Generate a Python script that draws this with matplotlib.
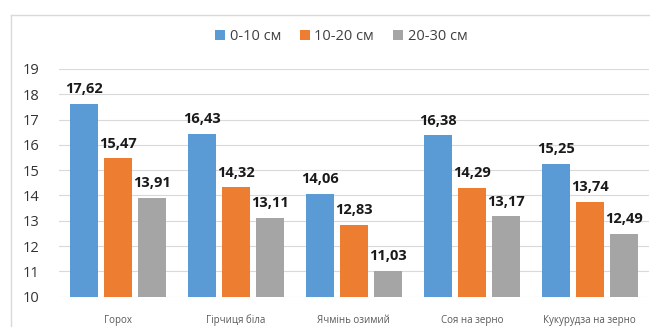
import matplotlib.pyplot as plt
import numpy as np
from matplotlib.lines import Line2D

plt.rcParams["font.family"] = ["Open Sans", "DejaVu Sans"]

crops = ["Горох", "Гірчиця біла", "Ячмінь озимий", "Соя на зерно", "Кукурудза на зерно"]
layers = ["0-10 см", "10-20 см", "20-30 см"]
depth_0_10 = [17.62, 16.43, 14.06, 16.38, 15.25]
depth_10_20 = [15.47, 14.32, 12.83, 14.29, 13.74]
depth_20_30 = [13.91, 13.11, 11.03, 13.17, 12.49]
colors = ["#5B9BD5", "#ED7D31", "#A5A5A5"]

fig = plt.figure(figsize=(6.5, 3.27), dpi=100)
ax = fig.add_axes([0.091, 0.093, 0.907, 0.696])

x = np.arange(len(crops))
width = 0.238
offsets = [-0.288, 0.0, 0.288]
series = [depth_0_10, depth_10_20, depth_20_30]

handles = []
for vals, off, col, name in zip(series, offsets, colors, layers):
    bars = ax.bar(x + off, np.array(vals) - 10, width, bottom=10, color=col, label=name, zorder=3)
    handles.append(bars)
    for xi, v in zip(x + off, vals):
        ax.annotate(f"{v:.2f}".replace(".", ","), (xi, v), xytext=(0, 5.5),
                    textcoords="offset points", ha="center", va="bottom",
                    fontsize=10.5, fontweight="bold", color="#1a1a1a")

ax.set_xlim(-0.5, len(crops) - 0.5)
ax.set_ylim(10, 19)
ax.set_yticks(range(10, 20))
ax.yaxis.grid(True, color="#D9D9D9", linewidth=0.8, zorder=0)
ax.set_axisbelow(True)
for side in ["top", "right", "left", "bottom"]:
    ax.spines[side].set_visible(False)
ax.tick_params(axis="y", length=0, labelsize=10.5, labelcolor="#333333", pad=14)
ax.tick_params(axis="x", length=0, labelsize=7, labelcolor="#595959", pad=13)
ax.set_xticks(x)
ax.set_xticklabels(crops)

fig.legend(handles=handles, labels=layers, loc="center", bbox_to_anchor=(0.525, 0.887),
           ncol=3, frameon=False, fontsize=10.5, handlelength=0.7, handleheight=0.7,
           handletextpad=0.3, columnspacing=1.3, labelcolor="#404040")

# outer chart frame (left and top edges)
fig.add_artist(Line2D([0.017, 0.017], [0.0, 0.954], color="#D9D9D9", linewidth=1.0))
fig.add_artist(Line2D([0.017, 1.0], [0.954, 0.954], color="#D9D9D9", linewidth=1.0))

fig.savefig("out.png", dpi=100)
